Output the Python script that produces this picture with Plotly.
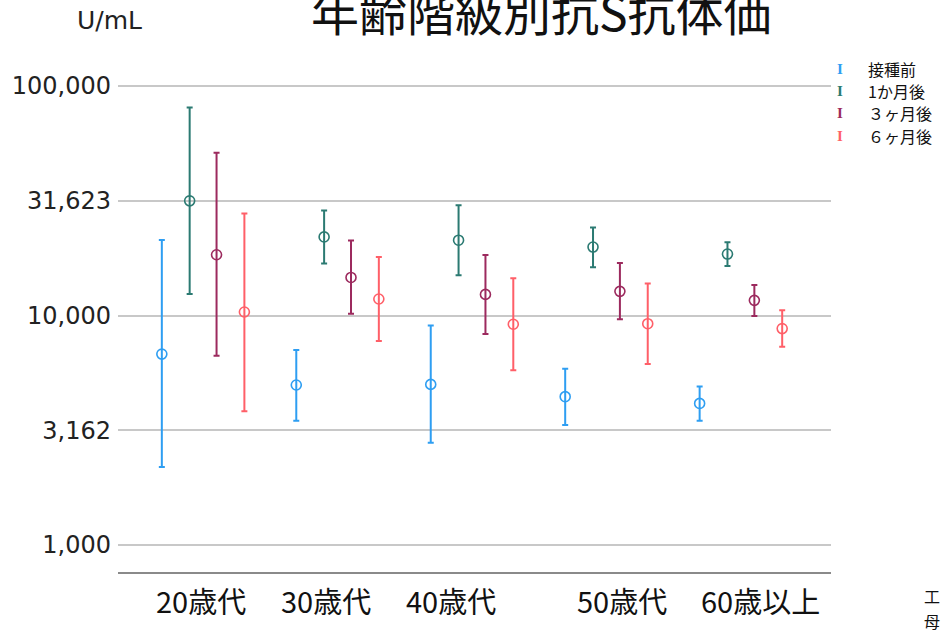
import plotly.graph_objects as go

groups = ['20歳代', '30歳代', '40歳代', '50歳代', '60歳以上']
series_names = ['接種前', '1か月後', '３ヶ月後', '６ヶ月後']

pre_mid = [6790, 4980, 5010, 4430, 4140]
pre_lo = [2190, 3480, 2790, 3330, 3480]
pre_hi = [21330, 7080, 9040, 5860, 4900]

m1_mid = [31600, 22000, 21290, 19870, 18530]
m1_lo = [12400, 16860, 14960, 16220, 16440]
m1_hi = [80700, 28660, 30200, 24200, 20850]

m3_mid = [18400, 14650, 12360, 12740, 11640]
m3_lo = [6670, 10180, 8300, 9620, 9950]
m3_hi = [51200, 21200, 18370, 16940, 13590]

m6_mid = [10360, 11800, 9160, 9210, 8770]
m6_lo = [3830, 7750, 5770, 6150, 7300]
m6_hi = [27850, 17990, 14520, 13770, 10540]

tick_vals = [1000, 3162.28, 10000, 31622.8, 100000]
tick_text = ['1,000', '3,162', '10,000', '31,623', '100,000']

colors = ['#2e9ef2', '#2b7a72', '#9c2a5e', '#ff5f68']
offsets = [-0.307, -0.1, 0.1, 0.307]
label_shift = [-2.5, -11.5, -21.5, 15.5, 19.5]

W, H = 941, 634
ML, MR, MT, MB = 115, 110, 60, 62
PW, PH = W - ML - MR, H - MT - MB


def px(x):
    return (x - ML) / PW


def py(y):
    return (H - MB - y) / PH


fig = go.Figure()
data = [(pre_mid, pre_lo, pre_hi), (m1_mid, m1_lo, m1_hi),
        (m3_mid, m3_lo, m3_hi), (m6_mid, m6_lo, m6_hi)]
for k, (mid, lo, hi) in enumerate(data):
    fig.add_trace(go.Scatter(
        x=[i + offsets[k] for i in range(len(groups))],
        y=mid,
        mode='markers',
        name=series_names[k],
        marker=dict(symbol='circle-open', size=10, color=colors[k],
                    line=dict(width=1.6, color=colors[k])),
        error_y=dict(type='data', symmetric=False,
                     array=[h - m for h, m in zip(hi, mid)],
                     arrayminus=[m - l for m, l in zip(mid, lo)],
                     color=colors[k], thickness=2, width=3),
        showlegend=False,
    ))

annotations = []
# x category labels
for i, g in enumerate(groups):
    annotations.append(dict(x=i, y=py(600), xref='x', yref='paper', text=g,
                            showarrow=False, xshift=label_shift[i],
                            font=dict(size=29, color='#111', family='Noto Sans CJK JP'),
                            xanchor='center', yanchor='middle'))
# title
annotations.append(dict(x=px(540), y=py(10), xref='paper', yref='paper',
                        text='年齢階級別抗S抗体価', showarrow=False,
                        font=dict(size=48, color='#111', family='Noto Sans CJK JP'),
                        xanchor='center', yanchor='middle'))
# units
annotations.append(dict(x=px(106), y=py(20), xref='paper', yref='paper',
                        text='U/mL', showarrow=False,
                        font=dict(size=25, color='#222', family='DejaVu Sans'),
                        xanchor='center', yanchor='middle'))
# legend
leg_y = [69, 91, 113, 136]
for k, name in enumerate(series_names):
    annotations.append(dict(x=px(840), y=py(leg_y[k]), xref='paper', yref='paper',
                            text='<b>I</b>', showarrow=False,
                            font=dict(size=15, color=colors[k], family='Liberation Serif'),
                            xanchor='center', yanchor='middle'))
    annotations.append(dict(x=px(866), y=py(leg_y[k]), xref='paper', yref='paper',
                            text=name, showarrow=False,
                            font=dict(size=16, color='#111', family='Noto Sans CJK JP'),
                            xanchor='left', yanchor='middle'))
# cut-off side text
for ch, yy in (('工', 596), ('母', 621)):
    annotations.append(dict(x=px(922), y=py(yy), xref='paper', yref='paper',
                            text=ch, showarrow=False,
                            font=dict(size=16, color='#111', family='Noto Sans CJK JP'),
                            xanchor='left', yanchor='middle'))

fig.update_layout(
    width=W, height=H,
    margin=dict(l=ML, r=MR, t=MT, b=MB, pad=0),
    paper_bgcolor='white', plot_bgcolor='white',
    annotations=annotations,
    xaxis=dict(range=[-0.633, 4.670], showgrid=False, zeroline=False,
               showticklabels=False, ticks='', showline=True,
               linecolor='#8a8a8a', linewidth=1.5),
    yaxis=dict(type='log', range=[2.8824, 5.1133], tickvals=tick_vals,
               ticktext=tick_text, showgrid=True, gridcolor='#c8c8c8',
               gridwidth=1.5, zeroline=False, showline=False, ticks='',
               ticklabelstandoff=6,
               tickfont=dict(size=24, color='#222', family='DejaVu Sans')),
)

fig.write_html('out.html', config={'displayModeBar': False},
               post_script="document.body.style.margin='0';document.body.style.overflow='hidden';")
